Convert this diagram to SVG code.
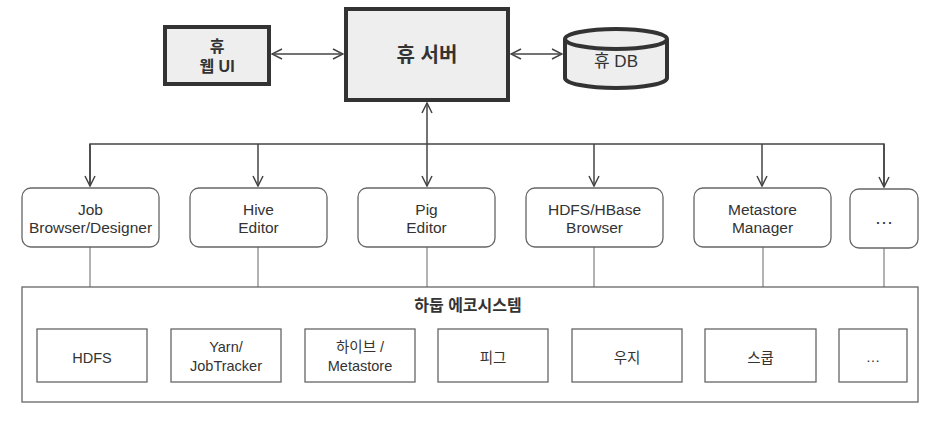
<svg xmlns="http://www.w3.org/2000/svg" width="936" height="430" viewBox="0 0 936 430">
<style>
text{font-family:"Liberation Sans","Noto Sans CJK KR",sans-serif;fill:#333;text-anchor:middle}
.top{fill:#eeeeee;stroke:#333;stroke-width:4}
.mid{fill:#fff;stroke:#666;stroke-width:1.3}
.eco{fill:#fff;stroke:#666;stroke-width:1.3}
.t{font-size:15.5px}
.e{font-size:14.5px}
.b{font-weight:bold}
.c{fill:none;stroke:#444;stroke-width:1.5}
.l{fill:none;stroke:#666;stroke-width:1}
</style>
<defs>
<marker id="ah" viewBox="0 0 12 12" refX="11" refY="6" markerWidth="12" markerHeight="12" markerUnits="userSpaceOnUse" orient="auto-start-reverse">
<path d="M1,1 L11,6 L1,11" fill="none" stroke="#444" stroke-width="1.5"/>
</marker>
</defs>
<g id="connectors">
<line class="c" x1="272" y1="54" x2="343" y2="54" marker-start="url(#ah)" marker-end="url(#ah)"/>
<line class="c" x1="511" y1="54" x2="562" y2="54" marker-start="url(#ah)" marker-end="url(#ah)"/>
<line class="c" x1="427" y1="103" x2="427" y2="144" marker-start="url(#ah)"/>
<polyline class="c" points="90,186 90,144 884,144 884,187"/>
<line class="c" x1="90" y1="144" x2="90" y2="186" marker-end="url(#ah)"/>
<line class="c" x1="258" y1="144" x2="258" y2="186" marker-end="url(#ah)"/>
<line class="c" x1="427" y1="144" x2="427" y2="186" marker-end="url(#ah)"/>
<line class="c" x1="594" y1="144" x2="594" y2="186" marker-end="url(#ah)"/>
<line class="c" x1="762" y1="144" x2="762" y2="186" marker-end="url(#ah)"/>
<line class="c" x1="884" y1="144" x2="884" y2="187" marker-end="url(#ah)"/>
<line class="l" x1="90" y1="247" x2="90" y2="287"/>
<line class="l" x1="258" y1="247" x2="258" y2="287"/>
<line class="l" x1="427" y1="247" x2="427" y2="287"/>
<line class="l" x1="594" y1="247" x2="594" y2="287"/>
<line class="l" x1="763" y1="247" x2="763" y2="287"/>
<line class="l" x1="884" y1="248" x2="884" y2="287"/>
</g>
<g id="hue-web-ui">
<rect class="top" x="165" y="27" width="104" height="57"/>
<text class="b" x="217" y="52" font-size="16px">휴</text>
<text class="b" x="217" y="72" font-size="16px">웹 UI</text>
</g>
<g id="hue-server">
<rect class="top" x="346" y="9" width="162" height="91"/>
<text class="b" x="427" y="62" font-size="20px">휴 서버</text>
</g>
<g id="hue-db">
<path class="top" d="M565,39 L565,78 A51,10 0 0 0 667,78 L667,39 A51,10 0 0 0 565,39 Z"/>
<path class="top" d="M565,39 A51,10 0 0 0 667,39" fill="none"/>
<text x="616" y="67" font-size="17px">휴 DB</text>
</g>
<g id="job-browser">
<rect class="mid" x="22" y="188" width="137" height="59" rx="9"/>
<text class="t" x="90.5" y="215">Job</text>
<text class="t" x="90.5" y="233">Browser/Designer</text>
</g>
<g id="hive-editor">
<rect class="mid" x="190" y="188" width="137" height="59" rx="9"/>
<text class="t" x="258.5" y="215">Hive</text>
<text class="t" x="258.5" y="233">Editor</text>
</g>
<g id="pig-editor">
<rect class="mid" x="358" y="188" width="137" height="59" rx="9"/>
<text class="t" x="426.5" y="215">Pig</text>
<text class="t" x="426.5" y="233">Editor</text>
</g>
<g id="hdfs-browser">
<rect class="mid" x="526" y="188" width="137" height="59" rx="9"/>
<text class="t" x="594.5" y="215">HDFS/HBase</text>
<text class="t" x="594.5" y="233">Browser</text>
</g>
<g id="metastore-manager">
<rect class="mid" x="694" y="188" width="137" height="59" rx="9"/>
<text class="t" x="762.5" y="215">Metastore</text>
<text class="t" x="762.5" y="233">Manager</text>
</g>
<g id="more-apps">
<rect class="mid" x="850" y="189" width="68" height="59" rx="9"/>
<text x="884" y="224" font-size="19px">…</text>
</g>
<g id="hadoop-ecosystem">
<rect class="eco" x="22" y="287" width="896" height="115"/>
<text class="b" x="468" y="311" font-size="16px">하둡 에코시스템</text>
</g>
<g id="hdfs">
<rect class="eco" x="37" y="329" width="110" height="53"/>
<text class="e" x="92" y="363">HDFS</text>
</g>
<g id="yarn">
<rect class="eco" x="171" y="329" width="110" height="53"/>
<text class="e" x="226" y="352">Yarn/</text>
<text class="e" x="226" y="371">JobTracker</text>
</g>
<g id="hive">
<rect class="eco" x="305" y="329" width="110" height="53"/>
<text class="e" x="360" y="352">하이브 /</text>
<text class="e" x="360" y="371">Metastore</text>
</g>
<g id="pig">
<rect class="eco" x="438" y="329" width="110" height="53"/>
<text class="e" x="493" y="363">피그</text>
</g>
<g id="oozie">
<rect class="eco" x="572" y="329" width="110" height="53"/>
<text class="e" x="627" y="363">우지</text>
</g>
<g id="sqoop">
<rect class="eco" x="705" y="329" width="111" height="53"/>
<text class="e" x="760.5" y="363">스쿱</text>
</g>
<g id="more-eco">
<rect class="eco" x="839" y="329" width="68" height="53"/>
<text class="e" x="873" y="362">…</text>
</g>
</svg>
